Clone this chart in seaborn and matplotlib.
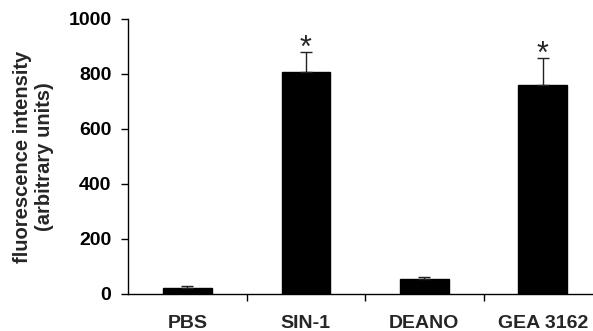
import matplotlib
matplotlib.use("Agg")
import matplotlib.pyplot as plt
import seaborn as sns
import numpy as np
import pandas as pd

# data
groups = ["PBS", "SIN-1", "DEANO", "GEA 3162"]
means = [21, 808, 53, 761]
sem = [7, 71, 10, 96]
significant = [False, True, False, True]
y_ticks = [0, 200, 400, 600, 800, 1000]

sns.set_theme(style="ticks")
plt.rcParams['font.family'] = ['Liberation Sans', 'DejaVu Sans']
plt.rcParams['font.weight'] = 'bold'

df = pd.DataFrame({"group": groups, "value": means})

fig = plt.figure(figsize=(5.93, 3.31), dpi=100)
ax = fig.add_axes([0.216, 0.112, 0.784, 0.831])

sns.barplot(data=df, x="group", y="value", color="black", width=0.41,
            saturation=1, edgecolor="black", ax=ax, zorder=2)

# one-sided (upward) error bars
xs = np.arange(len(groups))
ax.errorbar(xs, means, yerr=[np.zeros(len(sem)), sem], fmt="none",
            ecolor="#222222", elinewidth=1, capsize=4, capthick=1, zorder=3)

for x, m, e, s in zip(xs, means, sem, significant):
    if s:
        ax.annotate("*", xy=(x, m + e), xytext=(0, -8.5), textcoords="offset points",
                    ha="center", va="bottom", fontsize=22, fontweight="normal")

ax.set_xlim(-0.5, 3.424)
ax.set_ylim(0, 1000)
ax.set_yticks(y_ticks)
ax.set_yticklabels([str(t) for t in y_ticks], fontsize=14, fontweight="bold")
ax.set_xticks(xs)
ax.set_xticklabels(groups, fontsize=14, fontweight="bold")
ax.set_xticks(xs[:-1] + 0.5, minor=True)
ax.tick_params(axis="x", which="major", length=0, pad=15)
ax.tick_params(axis="x", which="minor", length=5, width=1, direction="out", color="black")
ax.tick_params(axis="y", length=5, width=1, pad=7, color="black", labelcolor="black")

ax.set_xlabel("")
ax.set_ylabel("fluorescence intensity\n(arbitrary units)", fontsize=14.5,
              fontweight="bold", labelpad=10, linespacing=1.25)

sns.despine(ax=ax)
for side in ["left", "bottom"]:
    ax.spines[side].set_color("black")
    ax.spines[side].set_linewidth(1)

fig.savefig("out.png", dpi=100)
